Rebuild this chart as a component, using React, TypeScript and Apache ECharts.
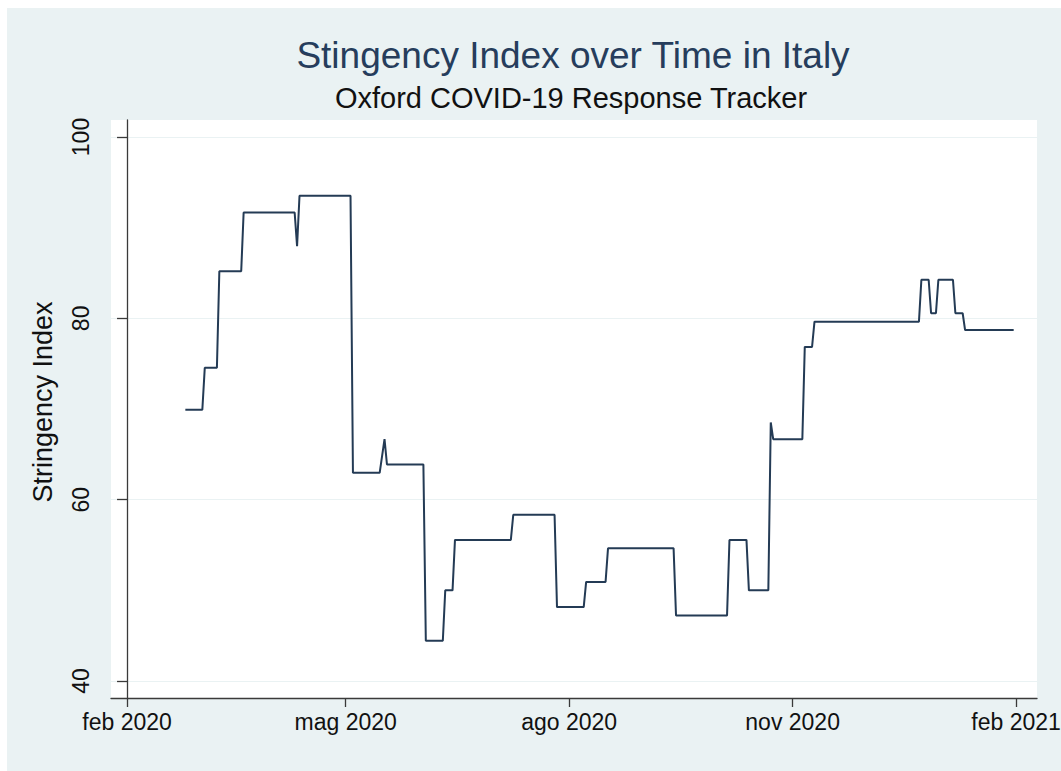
import React, { useEffect, useRef } from "react";
import * as echarts from "echarts";

// Stringency index readings (Italy), change points
const dates: string[] = [
  "2020-02-25", "2020-03-03", "2020-03-04", "2020-03-09", "2020-03-10",
  "2020-03-19", "2020-03-20", "2020-04-10", "2020-04-11", "2020-04-12",
  "2020-05-03", "2020-05-04", "2020-05-15", "2020-05-17", "2020-05-18",
  "2020-06-02", "2020-06-03", "2020-06-10", "2020-06-11", "2020-06-14",
  "2020-06-15", "2020-07-08", "2020-07-09", "2020-07-26", "2020-07-27",
  "2020-08-07", "2020-08-08", "2020-08-16", "2020-08-17", "2020-09-13",
  "2020-09-14", "2020-10-05", "2020-10-06", "2020-10-13", "2020-10-14",
  "2020-10-22", "2020-10-23", "2020-10-24", "2020-11-05", "2020-11-06",
  "2020-11-09", "2020-11-10", "2020-12-23", "2020-12-24", "2020-12-27",
  "2020-12-28", "2020-12-30", "2020-12-31", "2021-01-06", "2021-01-07",
  "2021-01-10", "2021-01-11", "2021-01-31",
];
const stringency: number[] = [
  69.91, 69.91, 74.54, 74.54, 85.19,
  85.19, 91.67, 91.67, 87.96, 93.52,
  93.52, 62.96, 62.96, 66.67, 63.89,
  63.89, 44.44, 44.44, 50.0, 50.0,
  55.56, 55.56, 58.33, 58.33, 48.15,
  48.15, 50.93, 50.93, 54.63, 54.63,
  47.22, 47.22, 55.56, 55.56, 50.0,
  50.0, 68.52, 66.67, 66.67, 76.85,
  76.85, 79.63, 79.63, 84.26, 84.26,
  80.56, 80.56, 84.26, 84.26, 80.56,
  80.56, 78.7, 78.7,
];

const xTickDates: string[] = ["2020-02-01", "2020-05-01", "2020-08-01", "2020-11-01", "2021-02-01"];
const xTickLabels: string[] = ["feb 2020", "mag 2020", "ago 2020", "nov 2020", "feb 2021"];
const yTicks: number[] = [40, 60, 80, 100];

const titleText = "Stingency Index over Time in Italy";
const subtitleText = "Oxford COVID-19 Response Tracker";
const yAxisName = "Stringency Index";

const FONT = "'Liberation Sans', Arial, Helvetica, sans-serif";
const DAY = 86400000;
const ORIGIN = "2020-02-01";

function toTs(s: string): number {
  const [y, m, d] = s.split("-").map(Number);
  return Date.UTC(y, m - 1, d);
}
function toDay(s: string): number {
  return Math.round((toTs(s) - toTs(ORIGIN)) / DAY);
}

export default function App() {
  const ref = useRef<HTMLDivElement>(null);
  useEffect(() => {
    if (!ref.current) return;
    const chart = echarts.init(ref.current, undefined, { renderer: "svg" });
    const xTicks = xTickDates.map(toDay);
    const axisColor = "#3a3a3a";
    chart.setOption({
      animation: false,
      backgroundColor: "#eaf2f3",
      title: [
        {
          text: titleText,
          left: 566,
          top: 29,
          padding: 0,
          textAlign: "center",
          textStyle: { fontFamily: FONT, fontSize: 37, fontWeight: "normal", color: "#263d5c" },
        },
        {
          text: subtitleText,
          left: 564,
          top: 75,
          padding: 0,
          textAlign: "center",
          textStyle: { fontFamily: FONT, fontSize: 29, fontWeight: "normal", color: "#111111" },
        },
      ],
      grid: {
        left: 104,
        right: 24,
        top: 112,
        bottom: 73,
        show: true,
        backgroundColor: "#ffffff",
        borderWidth: 0,
        containLabel: false,
        outerBoundsMode: "none",
      },
      xAxis: {
        type: "value",
        min: -6.6,
        max: 374.6,
        axisLine: { show: true, onZero: false, lineStyle: { color: axisColor, width: 1.3 } },
        axisTick: { show: true, customValues: xTicks, length: 9, lineStyle: { color: axisColor, width: 1.3 } },
        axisLabel: {
          customValues: xTicks,
          formatter: (v: number) => {
            const i = xTicks.indexOf(Math.round(v));
            return i >= 0 ? xTickLabels[i] : "";
          },
          fontFamily: FONT,
          fontSize: 23,
          color: "#111111",
          margin: 12,
        },
        splitLine: { show: false },
      },
      yAxis: {
        type: "value",
        min: 38.125,
        max: 101.875,
        name: yAxisName,
        nameLocation: "middle",
        nameGap: 55,
        nameTextStyle: { fontFamily: FONT, fontSize: 27, color: "#111111", padding: [0, 0, 0, 14] },
        axisLine: { show: true, lineStyle: { color: axisColor, width: 1.3 } },
        axisTick: { show: true, customValues: yTicks, length: 10, lineStyle: { color: axisColor, width: 1.3 } },
        axisLabel: {
          customValues: yTicks,
          rotate: 90,
          margin: 19,
          fontFamily: FONT,
          fontSize: 23,
          color: "#111111",
        },
        splitLine: { show: true, lineStyle: { color: "#eaf2f3", width: 1.2 } },
      },
      series: [
        {
          type: "line",
          data: dates.map((d, i) => [toDay(d), stringency[i]]),
          symbol: "none",
          lineStyle: { color: "#243b55", width: 2 },
          z: 3,
        },
      ],
    });
    return () => chart.dispose();
  }, []);
  return (
    <div
      ref={ref}
      style={{ position: "fixed", left: 7, top: 8, width: 1054, height: 763 }}
    />
  );
}
